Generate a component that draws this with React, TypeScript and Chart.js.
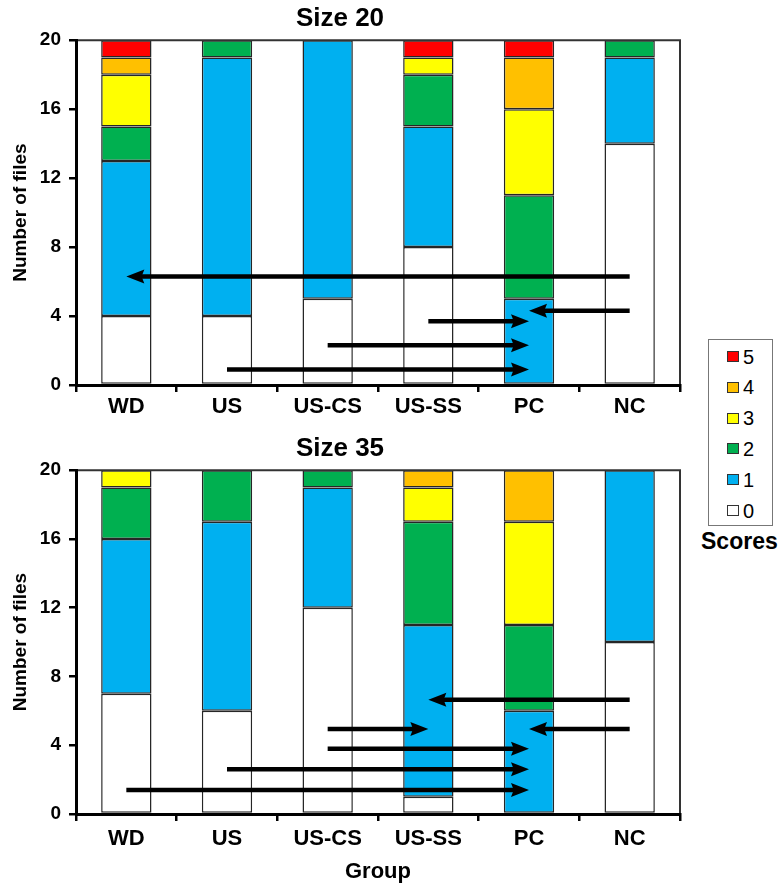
import React, { useEffect, useRef } from 'react';
import { Chart, registerables } from 'chart.js';

Chart.register(...registerables);

const FONT = "'Liberation Sans', Arial, Helvetica, sans-serif";

const groups = ['WD', 'US', 'US-CS', 'US-SS', 'PC', 'NC'];
const scoreLabels = ['0', '1', '2', '3', '4', '5'];
const scoreColors = ['#FFFFFF', '#00B0F0', '#00B050', '#FFFF00', '#FFC000', '#FF0000'];
const yTicks = [0, 4, 8, 12, 16, 20];

// Size 20: number of files per score, one array per score, columns = groups
const size20Score0 = [4, 4, 5, 8, 0, 14];
const size20Score1 = [9, 15, 15, 7, 5, 5];
const size20Score2 = [2, 1, 0, 3, 6, 1];
const size20Score3 = [3, 0, 0, 1, 5, 0];
const size20Score4 = [1, 0, 0, 0, 3, 0];
const size20Score5 = [1, 0, 0, 1, 1, 0];

// Size 35
const size35Score0 = [7, 6, 12, 1, 0, 10];
const size35Score1 = [9, 11, 7, 10, 6, 10];
const size35Score2 = [3, 3, 1, 6, 5, 0];
const size35Score3 = [1, 0, 0, 2, 6, 0];
const size35Score4 = [0, 0, 0, 1, 3, 0];
const size35Score5 = [0, 0, 0, 0, 0, 0];

// Arrows (group index from -> group index to, at a value on the y axis)
const size20ArrowFrom = [5, 5, 3, 2, 1];
const size20ArrowTo = [0, 4, 4, 4, 4];
const size20ArrowY = [6.3, 4.3, 3.7, 2.3, 0.9];

const size35ArrowFrom = [5, 5, 2, 2, 1, 0];
const size35ArrowTo = [3, 4, 3, 4, 4, 4];
const size35ArrowY = [6.65, 4.95, 4.95, 3.8, 2.6, 1.4];

const frameArrowsPlugin = {
  id: 'frameArrows',
  afterDatasetsDraw(chart: any, _args: any, opts: any) {
    const { ctx, chartArea: a, scales } = chart;
    ctx.save();
    ctx.strokeStyle = '#333';
    ctx.lineWidth = 2;
    ctx.beginPath();
    ctx.moveTo(a.left, a.top);
    ctx.lineTo(a.right, a.top);
    ctx.lineTo(a.right, a.bottom);
    ctx.stroke();

    const from: number[] = opts.from || [];
    const to: number[] = opts.to || [];
    const ys: number[] = opts.y || [];
    const headLen = 18;
    const headHalf = 7;
    for (let i = 0; i < from.length; i++) {
      const x0 = scales.x.getPixelForValue(from[i]);
      const x1 = scales.x.getPixelForValue(to[i]);
      const y = scales.y.getPixelForValue(ys[i]);
      const dir = x1 > x0 ? 1 : -1;
      ctx.strokeStyle = '#000';
      ctx.fillStyle = '#000';
      ctx.lineWidth = 4.5;
      ctx.beginPath();
      ctx.moveTo(x0, y);
      ctx.lineTo(x1 - dir * headLen * 0.7, y);
      ctx.stroke();
      ctx.beginPath();
      ctx.moveTo(x1, y);
      ctx.lineTo(x1 - dir * headLen, y - headHalf);
      ctx.lineTo(x1 - dir * headLen * 0.85, y);
      ctx.lineTo(x1 - dir * headLen, y + headHalf);
      ctx.closePath();
      ctx.fill();
    }
    ctx.restore();
  },
};

function makeConfig(
  title: string,
  series: number[][],
  arrowFrom: number[],
  arrowTo: number[],
  arrowY: number[],
  titlePad: { top: number; bottom: number },
  xHeight: number,
  xPad: number,
  showGroupTitle: boolean
): any {
  return {
    type: 'bar',
    data: {
      labels: groups,
      datasets: series.map((d, i) => ({
        label: scoreLabels[i],
        data: d,
        backgroundColor: scoreColors[i],
        borderColor: '#262626',
        borderWidth: 1.5,
        borderSkipped: false,
        barPercentage: 0.5,
        categoryPercentage: 1.0,
      })),
    },
    options: {
      responsive: false,
      maintainAspectRatio: false,
      animation: false,
      layout: { padding: { left: 0, right: 20, top: 0, bottom: 0 } },
      plugins: {
        legend: { display: false },
        tooltip: { enabled: false },
        title: {
          display: true,
          text: title,
          color: '#000',
          font: { family: FONT, size: 26, weight: 'bold' },
          padding: titlePad,
        },
        frameArrows: { from: arrowFrom, to: arrowTo, y: arrowY },
      },
      scales: {
        x: {
          stacked: true,
          afterFit: (s: any) => {
            s.height = xHeight;
          },
          border: { display: true, color: '#000', width: 3, z: 1 },
          grid: {
            offset: true,
            drawOnChartArea: false,
            drawTicks: true,
            tickLength: 7,
            color: '#000',
            lineWidth: 2.5,
          },
          ticks: {
            color: '#000',
            font: { family: FONT, size: 22, weight: 'bold' },
            padding: xPad,
            maxRotation: 0,
            autoSkip: false,
          },
          title: {
            display: showGroupTitle,
            text: 'Group',
            color: '#000',
            font: { family: FONT, size: 22, weight: 'bold', lineHeight: 1 },
            padding: { top: 0, bottom: 1 },
          },
        },
        y: {
          stacked: true,
          min: 0,
          max: 20,
          afterBuildTicks: (s: any) => {
            s.ticks = yTicks.map((v) => ({ value: v }));
          },
          afterFit: (s: any) => {
            s.width = 76;
          },
          border: { display: true, color: '#000', width: 3, z: 1 },
          grid: {
            drawOnChartArea: false,
            drawTicks: true,
            tickLength: 7,
            color: '#000',
            lineWidth: 2.5,
          },
          ticks: {
            color: '#000',
            font: { family: FONT, size: 19, weight: 'bold' },
            padding: 8,
          },
          title: {
            display: true,
            text: 'Number of files',
            color: '#000',
            font: { family: FONT, size: 19, weight: 'bold' },
            padding: { top: 9, bottom: 0 },
          },
        },
      },
    },
    plugins: [frameArrowsPlugin],
  };
}

const legendFirstY = 356.5;
const legendStep = 30.8;

export default function App() {
  const ref1 = useRef<HTMLCanvasElement | null>(null);
  const ref2 = useRef<HTMLCanvasElement | null>(null);

  useEffect(() => {
    Chart.defaults.font.family = FONT;
    const c1 = new Chart(
      ref1.current as HTMLCanvasElement,
      makeConfig(
        'Size 20',
        [size20Score0, size20Score1, size20Score2, size20Score3, size20Score4, size20Score5],
        size20ArrowFrom,
        size20ArrowTo,
        size20ArrowY,
        { top: 3, bottom: 6 },
        40,
        2,
        false
      )
    );
    const c2 = new Chart(
      ref2.current as HTMLCanvasElement,
      makeConfig(
        'Size 35',
        [size35Score0, size35Score1, size35Score2, size35Score3, size35Score4, size35Score5],
        size35ArrowFrom,
        size35ArrowTo,
        size35ArrowY,
        { top: 8, bottom: 6 },
        70,
        5,
        true
      )
    );
    return () => {
      c1.destroy();
      c2.destroy();
    };
  }, []);

  const legendOrder = [...scoreLabels.keys()].reverse();

  return (
    <div
      style={{
        position: 'absolute',
        left: 0,
        top: 0,
        width: 779,
        height: 884,
        background: '#fff',
        fontFamily: FONT,
        overflow: 'hidden',
      }}
    >
      <canvas
        ref={ref1}
        width={700}
        height={425}
        style={{ position: 'absolute', left: 0, top: 0, width: 700, height: 425 }}
      />
      <canvas
        ref={ref2}
        width={700}
        height={459}
        style={{ position: 'absolute', left: 0, top: 425, width: 700, height: 459 }}
      />
      <div
        style={{
          position: 'absolute',
          left: 708,
          top: 339,
          width: 65,
          height: 187,
          border: '1px solid #777',
          boxSizing: 'border-box',
        }}
      />
      {legendOrder.map((idx, row) => (
        <div
          key={idx}
          style={{
            position: 'absolute',
            left: 727,
            top: legendFirstY + row * legendStep - 11,
            height: 22,
            display: 'flex',
            alignItems: 'center',
          }}
        >
          <div
            style={{
              width: 12,
              height: 11,
              background: scoreColors[idx],
              border: '1px solid #333',
              boxSizing: 'border-box',
            }}
          />
          <span style={{ marginLeft: 4, fontSize: 20, lineHeight: '22px', color: '#000' }}>
            {scoreLabels[idx]}
          </span>
        </div>
      ))}
      <div
        style={{
          position: 'absolute',
          left: 701,
          top: 528,
          fontSize: 23,
          fontWeight: 'bold',
          lineHeight: '26px',
          whiteSpace: 'nowrap',
          color: '#000',
        }}
      >
        Scores
      </div>
    </div>
  );
}
